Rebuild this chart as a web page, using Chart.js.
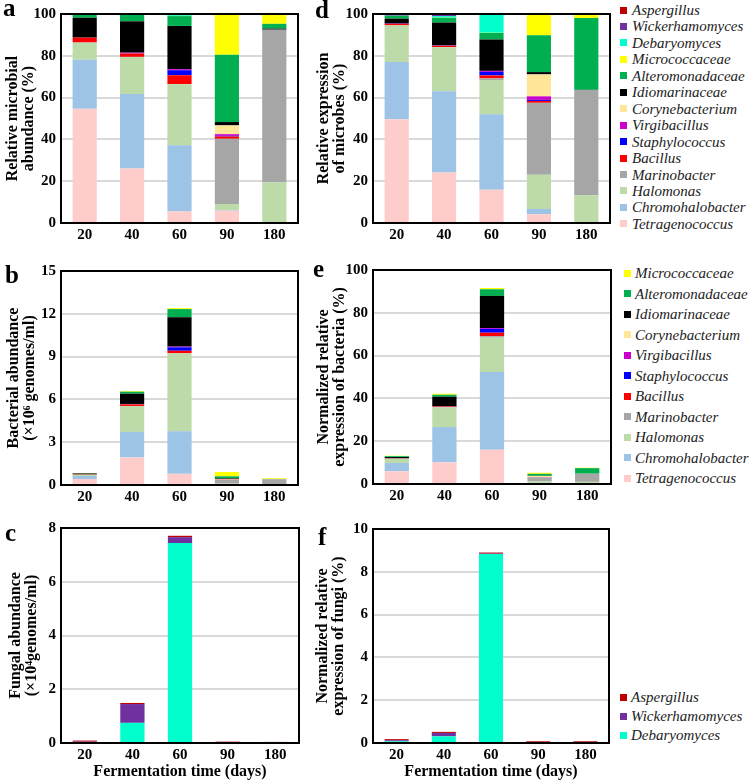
<!DOCTYPE html>
<html><head><meta charset="utf-8">
<script src="https://cdn.jsdelivr.net/npm/chart.js@4.4.0/dist/chart.umd.min.js"></script>
<style>
body{margin:0;background:#fff;width:751px;height:783px;position:relative;overflow:hidden;font-family:"Liberation Serif","Times New Roman",serif;}
canvas{position:absolute;}
.lbl{position:absolute;font-weight:bold;font-size:25px;line-height:25px;color:#000;}
.sq{position:absolute;width:7px;height:7px;}
.lt{position:absolute;font-style:italic;font-size:15px;line-height:18px;color:#222;white-space:nowrap;}
</style>
</head><body>
<canvas id="cA" width="300" height="246" style="left:0;top:0"></canvas>
<canvas id="cB" width="300" height="264" style="left:0;top:246px"></canvas>
<canvas id="cC" width="300" height="273" style="left:0;top:510px"></canvas>
<canvas id="cD" width="312" height="246" style="left:300px;top:0"></canvas>
<canvas id="cE" width="312" height="264" style="left:300px;top:246px"></canvas>
<canvas id="cF" width="312" height="273" style="left:300px;top:510px"></canvas>
<div class="lbl" style="left:3px;top:-5px">a</div>
<div class="lbl" style="left:5px;top:262px">b</div>
<div class="lbl" style="left:5px;top:520px">c</div>
<div class="lbl" style="left:315px;top:-3px">d</div>
<div class="lbl" style="left:313px;top:256px">e</div>
<div class="lbl" style="left:318px;top:524px">f</div>
<script>
// ---- categories ----
const days = ['20', '40', '60', '90', '180'];
const bacteria = ['Tetragenococcus', 'Chromohalobacter', 'Halomonas', 'Marinobacter', 'Bacillus',
  'Staphylococcus', 'Virgibacillus', 'Corynebacterium', 'Idiomarinaceae', 'Alteromonadaceae', 'Micrococcaceae'];
const fungi = ['Debaryomyces', 'Wickerhamomyces', 'Aspergillus'];
const bacteriaColors = ['#FFCCCC', '#9DC3E6', '#BDDBA8', '#A6A6A6', '#FF0000', '#0000FF', '#CC00CC',
  '#FFE699', '#000000', '#00B050', '#FFFF00'];
const fungiColors = ['#00FFCC', '#7030A0', '#C00000'];

// ---- panel a: relative microbial abundance (%) ; rows follow bacteria then fungi ----
const abundanceBacteriaPct = [
  [54.7, 26.1, 5.5, 5.9, 0],
  [23.4, 35.6, 31.7, 0.3, 0],
  [8.1, 17.7, 29.2, 2.9, 19.5],
  [0.2, 0.1, 0.1, 31.2, 73.0],
  [2.3, 1.6, 4.2, 1.1, 0],
  [0, 0.1, 2.4, 0.3, 0],
  [0, 0.3, 0.5, 0.8, 0],
  [0, 0, 0, 4.2, 0],
  [9.5, 15.0, 20.7, 1.6, 0.5],
  [1.5, 3.1, 4.7, 32.2, 2.3],
  [0.1, 0.2, 0.1, 19.5, 4.7]
];
const abundanceFungiPct = [
  [0, 0.2, 0.8, 0, 0],
  [0, 0, 0, 0, 0],
  [0.2, 0, 0.1, 0, 0]
];
// ---- panel d: relative expression of microbes (%) ----
const expressionBacteriaPct = [
  [49.7, 24.2, 15.9, 4.2, 0],
  [27.3, 38.8, 36.1, 2.5, 0],
  [17.5, 21.1, 16.4, 16.4, 13.3],
  [0.1, 0.1, 0.8, 34.4, 50.3],
  [0.6, 0.6, 1.4, 0.9, 0],
  [0, 0.1, 1.7, 0.5, 0],
  [0.2, 0.1, 0.5, 1.7, 0],
  [0, 0, 0, 10.5, 0],
  [2.4, 10.9, 15.0, 1.1, 0.1],
  [1.3, 2.3, 3.1, 17.6, 34.4],
  [0, 0.1, 0.1, 9.7, 1.4]
];
const expressionFungiPct = [
  [0.1, 0.7, 8.8, 0, 0],
  [0.5, 0.6, 0.1, 0, 0],
  [0.3, 0.4, 0.1, 0.5, 0.5]
];
// ---- panel b: bacterial abundance (x10^6 genomes/ml) ----
const bacterialAbundance = [
  [0.42, 1.93, 0.78, 0.05, 0],
  [0.21, 1.79, 2.98, 0.01, 0],
  [0.09, 1.81, 5.46, 0.03, 0.07],
  [0, 0.01, 0.02, 0.26, 0.33],
  [0.02, 0.11, 0.17, 0.01, 0],
  [0, 0.01, 0.24, 0, 0],
  [0, 0.02, 0.05, 0.01, 0],
  [0, 0, 0, 0.04, 0],
  [0.07, 0.72, 2.06, 0.05, 0],
  [0.01, 0.14, 0.57, 0.15, 0.02],
  [0.01, 0.05, 0.07, 0.30, 0.05]
];
// ---- panel e: normalized relative expression of bacteria (%) ----
const bacterialExpression = [
  [5.9, 10.1, 16.0, 0.22, 0],
  [3.9, 16.5, 36.3, 0.13, 0],
  [2.0, 9.2, 16.1, 0.87, 1.0],
  [0.05, 0.1, 0.7, 1.82, 3.8],
  [0.1, 0.3, 1.6, 0.05, 0],
  [0, 0.05, 1.8, 0.03, 0],
  [0.05, 0.05, 0.4, 0.09, 0],
  [0, 0, 0, 0.56, 0],
  [0.6, 4.5, 15.0, 0.06, 0.01],
  [0.4, 0.9, 3.1, 0.93, 2.6],
  [0.2, 0.5, 0.6, 0.51, 0.2]
];
// ---- panel c: fungal abundance (x10^4 genomes/ml) ----
const fungalAbundance = [
  [0.03, 0.75, 7.44, 0.01, 0.03],
  [0.02, 0.70, 0.22, 0, 0],
  [0.04, 0.04, 0.05, 0.04, 0.01]
];
// ---- panel f: normalized relative expression of fungi (%) ----
const fungalExpression = [
  [0.08, 0.31, 8.83, 0.01, 0.01],
  [0.05, 0.16, 0.02, 0, 0],
  [0.05, 0.05, 0.05, 0.07, 0.07]
];

const FONT = '"Liberation Serif", "Times New Roman", serif';

const boxPlugin = {
  id: 'box',
  afterDatasetsDraw(chart) {
    const {ctx, chartArea: a} = chart;
    ctx.save();
    ctx.strokeStyle = '#000';
    ctx.lineWidth = 2;
    ctx.strokeRect(a.left, a.top, a.right - a.left, a.bottom - a.top);
    ctx.restore();
  }
};

function makeChart(id, names, colors, rows, g) {
  const datasets = names.map((n, i) => ({
    label: n, data: rows[i], backgroundColor: colors[i], borderWidth: 0,
    barPercentage: 0.51, categoryPercentage: 1
  }));
  const tickFont = {family: FONT, size: 15, weight: 'bold'};
  new Chart(document.getElementById(id), {
    type: 'bar',
    data: {labels: days, datasets},
    plugins: [boxPlugin],
    options: {
      responsive: false, animation: false, devicePixelRatio: 1,
      layout: {padding: {top: g.top, right: g.right, left: 0, bottom: 0}},
      plugins: {legend: {display: false}, tooltip: {enabled: false}},
      scales: {
        x: {
          stacked: true,
          ticks: {font: tickFont, color: '#000', padding: 3, maxRotation: 0},
          grid: {display: false, drawTicks: false},
          border: {display: false},
          title: g.xTitle ? {display: true, text: g.xTitle, color: '#000',
            font: {family: FONT, size: 16, weight: 'bold', lineHeight: 1.2}, padding: {top: 0, bottom: 2}} : {display: false},
          afterFit(s) { s.height = g.xh; }
        },
        y: {
          stacked: true, min: 0, max: g.max,
          ticks: {stepSize: g.step, font: tickFont, color: '#000', padding: 5},
          grid: {color: '#d9d9d9', lineWidth: 2, drawTicks: false},
          border: {display: false},
          title: {display: true, text: g.yTitle, color: '#000',
            font: {family: FONT, size: 16, weight: 'bold', lineHeight: g.lh || 1.05},
            padding: {top: g.tp, bottom: 0}},
          afterFit(s) { s.width = g.yw; }
        }
      }
    }
  });
}

const bactAndFungi = bacteria.concat(fungi);
const bactAndFungiColors = bacteriaColors.concat(fungiColors);

makeChart('cA', bactAndFungi, bactAndFungiColors, abundanceBacteriaPct.concat(abundanceFungiPct),
  {top: 10, right: 2, xh: 23, yw: 61, max: 100, step: 20, tp: 4, yTitle: ['Relative microbial', 'abundance (%)']});
makeChart('cD', bactAndFungi, bactAndFungiColors, expressionBacteriaPct.concat(expressionFungiPct),
  {top: 10, right: 2, xh: 23, yw: 73, max: 100, step: 20, tp: 15, yTitle: ['Relative expression', 'of microbes (%)']});
makeChart('cB', bacteria, bacteriaColors, bacterialAbundance,
  {top: 25, right: 2, xh: 25, yw: 61, max: 15, step: 3, tp: 5, yTitle: ['Bacterial abundance', '(\u00d710\u2076 genomes/ml)']});
makeChart('cE', bacteria, bacteriaColors, bacterialExpression,
  {top: 24, right: 1, xh: 26, yw: 73, max: 100, step: 20, tp: 15, yTitle: ['Normalized relative', 'expression of bacteria (%)']});
makeChart('cC', fungi, fungiColors, fungalAbundance,
  {top: 18, right: 1, xh: 40, yw: 61, max: 8, step: 2, tp: 7, yTitle: ['Fungal abundance', '(\u00d710\u2074genomes/ml)'], xTitle: 'Fermentation time (days)'});
makeChart('cF', fungi, fungiColors, fungalExpression,
  {top: 19, right: 3, xh: 40, yw: 73, max: 10, step: 2, tp: 14, yTitle: ['Normalized relative', 'expression of fungi (%)'], xTitle: 'Fermentation time (days)'});

// ---- HTML legends built from the same name/colour arrays (top item = last stacked series) ----
function legend(names, colors, sqX, txtX, y0, dy) {
  const n = names.length;
  for (let k = 0; k < n; k++) {
    const i = n - 1 - k;
    const yc = y0 + k * dy;
    const sq = document.createElement('div');
    sq.className = 'sq';
    sq.style.left = sqX + 'px'; sq.style.top = (yc - 3.5) + 'px';
    sq.style.background = colors[i];
    document.body.appendChild(sq);
    const t = document.createElement('div');
    t.className = 'lt';
    t.style.left = txtX + 'px'; t.style.top = (yc - 9) + 'px';
    t.textContent = names[i];
    document.body.appendChild(t);
  }
}
legend(bactAndFungi, bactAndFungiColors, 620, 632, 10, 16.45);
legend(bacteria, bacteriaColors, 624, 635, 273, 20.5);
legend(fungi, fungiColors, 620, 631, 697, 19);
</script>
</body></html>
